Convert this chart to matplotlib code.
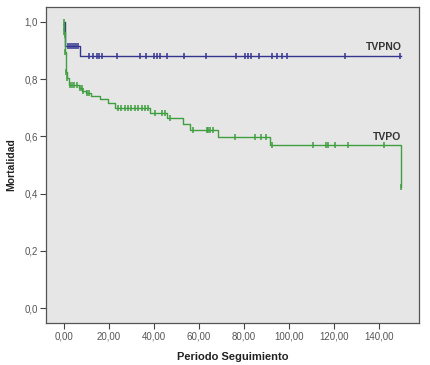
import matplotlib.pyplot as plt
import numpy as np

# Kaplan-Meier style curves
# TVPNO (blue)
tvpno_times = [0, 0.3, 7.1, 150]
tvpno_surv = [1.0, 0.915, 0.879, 0.879]
tvpno_censor = [1.8, 2.6, 3.4, 4.3, 5.2, 6.2, 11.0, 13.0, 14.7, 15.6, 16.9, 23.6,
                33.8, 36.4, 40.0, 41.3, 42.6, 45.8, 53.3, 63.2, 76.3, 80.4, 81.8,
                83.1, 86.7, 92.4, 94.7, 96.9, 99.1, 124.9, 149.5]

# TVPO (green)
tvpo_times = [0, 0.06, 0.15, 0.25, 0.4, 0.7, 1.2, 2.2, 6.5, 8.0, 9.6, 12.2, 16.0,
              19.7, 22.7, 38.2, 45.6, 53.0, 56.0, 68.6, 91.6, 150]
tvpo_surv = [1.0, 0.983, 0.966, 0.955, 0.896, 0.826, 0.803, 0.78, 0.768, 0.757,
             0.751, 0.741, 0.729, 0.716, 0.698, 0.683, 0.663, 0.643, 0.622, 0.597,
             0.570, 0.424]
tvpo_censor = [0.02, 0.1, 0.2, 0.3, 0.5, 0.9, 1.5, 2.7, 3.5, 4.5, 5.8, 7.0, 7.8,
               8.6, 10.4, 11.2, 24.0, 25.5, 27.0, 28.5, 30.0, 31.5, 33.0, 34.5,
               36.0, 37.5, 40.4, 43.5, 44.9, 47.0, 57.3, 63.4, 64.0, 64.9, 66.2,
               76.0, 84.9, 87.8, 90.0, 92.3, 110.8, 116.4, 117.2, 120.4, 126.4,
               142.2, 150]

xticks = [0, 20, 40, 60, 80, 100, 120, 140]
yticks = [0.0, 0.2, 0.4, 0.6, 0.8, 1.0]

blue = '#34358f'
green = '#3f9e3f'


def step_value(times, surv, t):
    idx = np.searchsorted(times, t, side='right') - 1
    return np.asarray(surv)[idx]


plt.rcParams['font.family'] = ['Liberation Sans', 'DejaVu Sans']

fig = plt.figure(figsize=(4.3, 3.65), dpi=100)
ax = fig.add_axes([0.107, 0.115, 0.867, 0.866])
ax.set_facecolor('#e6e6e6')

for times, surv, cens, color in [(tvpno_times, tvpno_surv, tvpno_censor, blue),
                                 (tvpo_times, tvpo_surv, tvpo_censor, green)]:
    ax.step(times, surv, where='post', color=color, lw=1.0)
    ax.plot(cens, step_value(times, surv, cens), ls='none', marker='|',
            ms=5, mew=1.1, color=color)

ax.text(150, 0.895, 'TVPNO', ha='right', va='bottom', fontsize=7.5,
        fontweight='bold', color='#333333')
ax.text(150, 0.582, 'TVPO', ha='right', va='bottom', fontsize=7.5,
        fontweight='bold', color='#333333')

ax.set_xlim(-8, 157.8)
ax.set_ylim(-0.052, 1.052)
ax.set_xticks(xticks)
ax.set_xticklabels([f'{v:.2f}'.replace('.', ',') for v in xticks])
ax.set_yticks(yticks)
ax.set_yticklabels([f'{v:.1f}'.replace('.', ',') for v in yticks])
ax.tick_params(direction='out', length=4, width=0.8, labelsize=7,
               color='#444444', labelcolor='#555555', pad=2)

for side in ax.spines.values():
    side.set_color('#555555')
    side.set_linewidth(0.9)

ax.set_xlabel('Periodo Seguimiento', fontsize=8, fontweight='bold', labelpad=8,
              color='#222222')
ax.set_ylabel('Mortalidad', fontsize=7.5, fontweight='bold', labelpad=6,
              color='#222222')

fig.savefig('out.png', dpi=100)
